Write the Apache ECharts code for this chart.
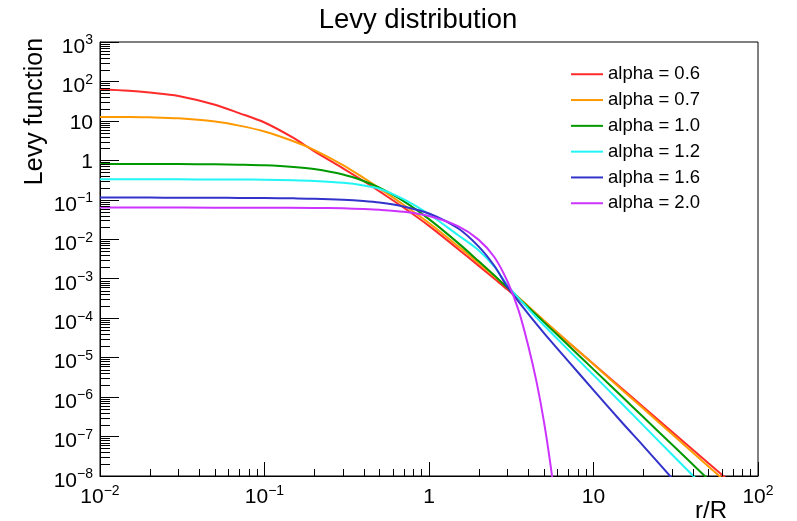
<!DOCTYPE html>
<html>
<head>
<meta charset="utf-8">
<title>Levy distribution</title>
<script src="https://cdn.jsdelivr.net/npm/echarts@6/dist/echarts.min.js"></script>
<style>
  html, body { margin: 0; padding: 0; background: #fff; }
  #chart { width: 797px; height: 521px; }
</style>
</head>
<body>
<div id="chart"></div>
<script>
// r/R sample points shared by the stable curves
const r = [0.01, 0.015, 0.02, 0.03, 0.05, 0.07, 0.1, 0.15, 0.2, 0.3, 0.4, 0.5, 0.7,
           1, 1.5, 2, 2.5, 3, 4, 5, 7, 10, 15, 20, 30, 50, 70, 100];

const alpha06 = [63.5, 58, 52.3, 43, 25.7, 15.8, 9.1, 3.7, 1.72, 0.63, 0.3, 0.163, 0.0637,
                 0.0218, 0.0057, 0.00215, 9.95e-4, 5.3e-4, 1.89e-4, 8.5e-5, 2.5e-5, 6.9e-6,
                 1.61e-6, 5.7e-7, 1.33e-7, 2.1e-8, 6.3e-9, 1.74e-9];
const alpha07 = [12.6, 12.5, 12.3, 11.6, 9.6, 7.6, 5.4, 3.05, 1.85, 0.76, 0.36, 0.195, 0.075,
                 0.0258, 0.0067, 0.00252, 0.00115, 6.0e-4, 2.05e-4, 8.8e-5, 2.5e-5, 6.8e-6,
                 1.5e-6, 5.2e-7, 1.16e-7, 1.75e-8, 5.1e-9, 1.35e-9];
const alpha10 = [0.81, 0.81, 0.808, 0.805, 0.795, 0.776, 0.749, 0.682, 0.602, 0.438, 0.301, 0.203, 0.0925,
                 0.0324, 0.0081, 0.0028, 0.0012, 5.9e-4, 1.92e-4, 7.95e-5, 2.09e-5, 5.04e-6,
                 1.0e-6, 3.17e-7, 6.26e-8, 8.1e-9, 2.1e-9, 5.1e-10];
const alpha12 = [0.33, 0.33, 0.33, 0.33, 0.329, 0.327, 0.323, 0.313, 0.30, 0.27, 0.232, 0.19, 0.104,
                 0.043, 0.0128, 0.0053, 0.0020, 6.8e-4, 1.75e-4, 6.6e-5, 1.6e-5, 3.6e-6,
                 6.6e-7, 1.95e-7, 3.5e-8, 4.1e-9, 9.4e-10, 2.1e-10];
const alpha16 = [0.114, 0.114, 0.114, 0.113, 0.113, 0.112, 0.111, 0.109, 0.107, 0.101, 0.094, 0.086, 0.068,
                 0.045, 0.019, 0.0066, 0.0021, 6.2e-4, 1.3e-4, 4.2e-5, 8.3e-6, 1.5e-6,
                 2.2e-7, 5.9e-8, 8.8e-9, 7.5e-10, 1.6e-10, 3.1e-11];

// the Gaussian case falls off fast, so it gets its own finer r grid
const rGauss = [0.01, 0.02, 0.05, 0.1, 0.2, 0.3, 0.4, 0.5, 0.7, 1, 1.5, 2, 2.5, 3, 3.5, 4, 4.5, 5, 5.5, 6];
const alpha20 = [0.0635, 0.0635, 0.0634, 0.0632, 0.0623, 0.0607, 0.0585, 0.056, 0.0497, 0.0388,
                 0.0215, 0.0098, 0.0035, 8.5e-4, 1.6e-4, 2.1e-5, 2.5e-6, 2.36e-7, 1.7e-8, 9.7e-10];

const seriesNames = ['alpha = 0.6', 'alpha = 0.7', 'alpha = 1.0', 'alpha = 1.2', 'alpha = 1.6', 'alpha = 2.0'];
const seriesColors = ['#ff2a2a', '#ff9900', '#009a00', '#22f5f5', '#3333cc', '#cc33ff'];

const X_MIN = 1e-2, X_MAX = 1e2;
const Y_MIN = 1e-8, Y_MAX = 1e3;

const FONT = '"Liberation Sans", Arial, Helvetica, sans-serif';

// log minor tick positions (2..9 x 10^k)
function minorValues(kFrom, kTo) {
  const out = [];
  for (let k = kFrom; k <= kTo; k++) {
    for (let m = 2; m <= 9; m++) out.push(m * Math.pow(10, k));
  }
  return out;
}
const xMinor = minorValues(-2, 1);
const yMinor = minorValues(-8, 2);

function pairs(xs, ys) { return xs.map((x, i) => [x, ys[i]]); }

function expOf(v) { return Math.round(Math.log10(v)); }
function expText(k) { return (k < 0 ? '\u2212' : '') + Math.abs(k); }

function xLabel(v) {
  const k = expOf(v);
  if (k === 0) return '{b|1}';
  if (k === 1) return '{b|10}';
  return '{b|10}{s|' + expText(k) + '}';
}
function yLabel(v) {
  const k = expOf(v);
  if (k === 0) return '{p|1}';
  if (k === 1) return '{p|10}';
  return '{b|10}{s|' + expText(k) + '}';
}

const richStyles = {
  b: { fontFamily: FONT, fontSize: 21, color: '#000', padding: [10, 0, 0, 0], verticalAlign: 'bottom' },
  s: { fontFamily: FONT, fontSize: 14, color: '#000', padding: [0, 0, 10, 0], verticalAlign: 'bottom' },
  p: { fontFamily: FONT, fontSize: 21, color: '#000', padding: [4, 0, 0, 0], verticalAlign: 'bottom' }
};

function minorTickSeries(values, onX, len) {
  return {
    type: 'custom',
    silent: true,
    z: 4,
    clip: false,
    data: values.map(v => onX ? [v, Y_MIN] : [X_MIN, v]),
    encode: { x: 0, y: 1 },
    renderItem: function (params, api) {
      const p = api.coord([api.value(0), api.value(1)]);
      let shape;
      if (onX) {
        const x = Math.round(p[0]) + 0.5;
        shape = { x1: x, y1: p[1], x2: x, y2: p[1] - len };
      } else {
        const y = Math.round(p[1]) + 0.5;
        shape = { x1: p[0], y1: y, x2: p[0] + len, y2: y };
      }
      return { type: 'line', shape: shape, style: { stroke: '#000', lineWidth: 1 } };
    }
  };
}

const curves = [
  pairs(r, alpha06), pairs(r, alpha07), pairs(r, alpha10),
  pairs(r, alpha12), pairs(r, alpha16), pairs(rGauss, alpha20)
];

const lineSeries = curves.map((d, i) => ({
  name: seriesNames[i],
  type: 'line',
  data: d,
  symbol: 'none',
  smooth: 0.3,
  clip: true,
  z: 3,
  lineStyle: { color: seriesColors[i], width: 2 },
  itemStyle: { color: seriesColors[i] },
  emphasis: { disabled: true }
}));

const chart = echarts.init(document.getElementById('chart'), null, { renderer: 'canvas' });

chart.setOption({
  animation: false,
  backgroundColor: '#fff',
  grid: {
    left: 100, right: 39, top: 42, bottom: 45,
    show: true, borderColor: '#000', borderWidth: 1, backgroundColor: 'transparent'
  },
  legend: {
    data: seriesNames,
    orient: 'vertical',
    left: 571,
    top: 64.75,
    padding: 0,
    icon: 'rect',
    itemWidth: 32,
    itemHeight: 2,
    itemGap: 6.8,
    textStyle: { fontFamily: FONT, fontSize: 18.5, color: '#000' },
    selectedMode: false
  },
  xAxis: {
    type: 'log',
    logBase: 10,
    min: X_MIN,
    max: X_MAX,
    interval: 1,
    axisLine: { show: true, lineStyle: { color: '#000', width: 1 } },
    axisTick: { show: true, inside: true, length: 14, lineStyle: { color: '#000', width: 1 } },
    axisLabel: { formatter: xLabel, rich: richStyles, margin: 1, showMinLabel: true, showMaxLabel: true },
    splitLine: { show: false }
  },
  yAxis: {
    type: 'log',
    logBase: 10,
    min: Y_MIN,
    max: Y_MAX,
    interval: 1,
    splitNumber: 11,
    axisLine: { show: true, lineStyle: { color: '#000', width: 1 } },
    axisTick: { show: true, inside: true, length: 19, lineStyle: { color: '#000', width: 1 } },
    axisLabel: { formatter: yLabel, rich: richStyles, margin: 7, showMinLabel: true, showMaxLabel: true },
    splitLine: { show: false }
  },
  graphic: [
    {
      type: 'text', x: 418, y: 6, silent: true,
      style: { text: 'Levy distribution', font: '27.5px ' + FONT, fill: '#000',
               textAlign: 'center', textVerticalAlign: 'top', align: 'center', verticalAlign: 'top' }
    },
    {
      type: 'text', x: 35, y: 111.5, rotation: Math.PI / 2, silent: true,
      style: { text: 'Levy function', font: '25px ' + FONT, fill: '#000',
               textAlign: 'center', textVerticalAlign: 'middle', align: 'center', verticalAlign: 'middle' }
    },
    {
      type: 'text', x: 727, y: 511.5, silent: true,
      style: { text: 'r/R', font: '24px ' + FONT, fill: '#000',
               textAlign: 'right', textVerticalAlign: 'middle', align: 'right', verticalAlign: 'middle' }
    }
  ],
  series: lineSeries.concat([
    minorTickSeries(xMinor, true, 7),
    minorTickSeries(yMinor, false, 10)
  ])
});
</script>
</body>
</html>
